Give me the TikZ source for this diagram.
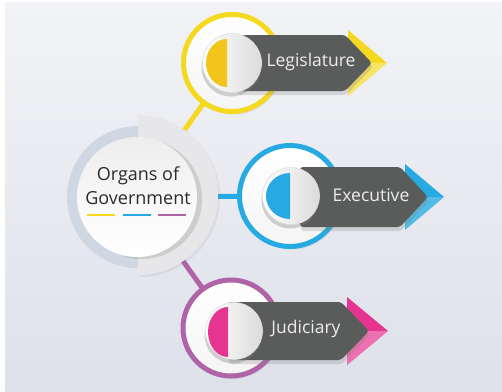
\documentclass[tikz,border=0pt]{standalone}
\usepackage{fontspec}
\setmainfont{Open Sans}
\usetikzlibrary{shadows,calc}
\definecolor{bgtop}{HTML}{F2F3F6}
\definecolor{bgbot}{HTML}{DEE1EA}
\definecolor{cyell}{HTML}{F5D920}
\definecolor{cyelldk}{HTML}{F2C51A}
\definecolor{cblue}{HTML}{27AAE1}
\definecolor{cpurp}{HTML}{B064A8}
\definecolor{cpink}{HTML}{E63590}
\definecolor{banner}{HTML}{5A5B5B}
\definecolor{ringgray}{HTML}{CFD8E2}
\definecolor{halfdisc}{HTML}{E7E7E9}
\definecolor{txtdark}{HTML}{2A2A2A}
\tikzset{
  connector/.style={line width=5pt},
  colring/.style={circle, line width=5pt, top color=white, bottom color=gray!8, drop shadow={opacity=0.15, shadow xshift=2pt, shadow yshift=-3pt}},
  bannerbox/.style={fill=banner, rounded corners=3pt, drop shadow={opacity=0.25, shadow xshift=1pt, shadow yshift=-4pt}},
  button/.style={circle, left color=white, right color=gray!28, draw=gray!25, line width=0.6pt, drop shadow={opacity=0.35, shadow xshift=-1pt, shadow yshift=-4pt}},
  bantext/.style={text=white!93!black, font=\fontsize{17.5}{20}\selectfont, inner sep=0pt},
}
\begin{document}
\begin{tikzpicture}[x=1pt,y=-1pt]
\useasboundingbox (0,0) rectangle (502,391);
\fill[white] (0,0) rectangle (502,391);
\shade[top color=bgtop, bottom color=bgbot] (5,2) rectangle (502,391);

% named anchor points
\coordinate (orgc) at (137,197);
\coordinate (legc) at (232,63);
\coordinate (exec) at (290,196);
\coordinate (judc) at (231,328);

% connectors
\draw[connector, cyell] (orgc) -- (legc);
\draw[connector, cblue] (orgc) -- (exec);
\draw[connector, cpurp] (orgc) -- (judc);

% central element
\fill[ringgray] (138,126) arc[start angle=270, end angle=90, radius=71] -- cycle;
\fill[halfdisc, drop shadow={opacity=0.12, shadow xshift=2pt, shadow yshift=-2pt}] (138,115) arc[start angle=270, end angle=450, radius=80] -- cycle;
\node[circle, minimum size=120pt, inner sep=0pt, top color=gray!14, bottom color=white, middle color=white!97!black,
      drop shadow={opacity=0.25, shadow xshift=5pt, shadow yshift=-2pt}] (org) at (orgc) {};
\node[text=txtdark, font=\fontsize{18}{24}\selectfont, align=center, inner sep=0pt] (orgtxt) at (138,186) {Organs of\\Government};
\draw[line width=2.2pt, cyell] (87,215) -- (115,215);
\draw[line width=2.2pt, cblue] (123,215) -- (151,215);
\draw[line width=2.2pt, cpurp] (158,215) -- (186,215);

% ---------- Legislature ----------
\node[colring, draw=cyell, minimum size=97pt] (legring) at (legc) {};
\fill[cyell] (348,30) -- (387,63) -- (348,96) -- cycle;
\fill[white, opacity=0.3] (348,63) -- (387,63) -- (348,96) -- cycle;
\path[bannerbox] (237,35) -- (345,35) -- (372,63) -- (345,91) -- (237,91) -- cycle;
\node[button, minimum size=59pt] (legbtn) at (232,63) {};
\fill[cyelldk] (227,39) arc[start angle=270, end angle=90, x radius=21, y radius=24] -- cycle;
\node[bantext] (legtxt) at (311,62) {Legislature};

% ---------- Executive ----------
\node[colring, draw=cblue, minimum size=101pt] (exering) at (exec) {};
\fill[cblue] (405,164) -- (444,197) -- (405,230) -- cycle;
\fill[white, opacity=0.2] (405,197) -- (444,197) -- (405,230) -- cycle;
\path[bannerbox] (300,167) -- (400,167) -- (428,197) -- (400,227) -- (300,227) -- cycle;
\node[button, minimum size=57pt] (exebtn) at (291,196) {};
\fill[cblue] (290,173) arc[start angle=270, end angle=90, x radius=24, y radius=23] -- cycle;
\node[bantext] (exetxt) at (371,195) {Executive};

% ---------- Judiciary ----------
\node[colring, draw=cpurp, minimum size=96pt] (judring) at (judc) {};
\fill[cpink] (347,297) -- (388,331) -- (347,365) -- cycle;
\fill[white, opacity=0.3] (347,331) -- (388,331) -- (347,365) -- cycle;
\path[bannerbox] (228,302) -- (341,302) -- (369,331) -- (341,360) -- (228,360) -- cycle;
\node[button, minimum size=57pt] (judbtn) at (234,331) {};
\fill[cpink] (228,307) arc[start angle=270, end angle=90, x radius=20, y radius=25] -- cycle;
\node[bantext] (judtxt) at (306,329) {Judiciary};
\end{tikzpicture}
\end{document}
